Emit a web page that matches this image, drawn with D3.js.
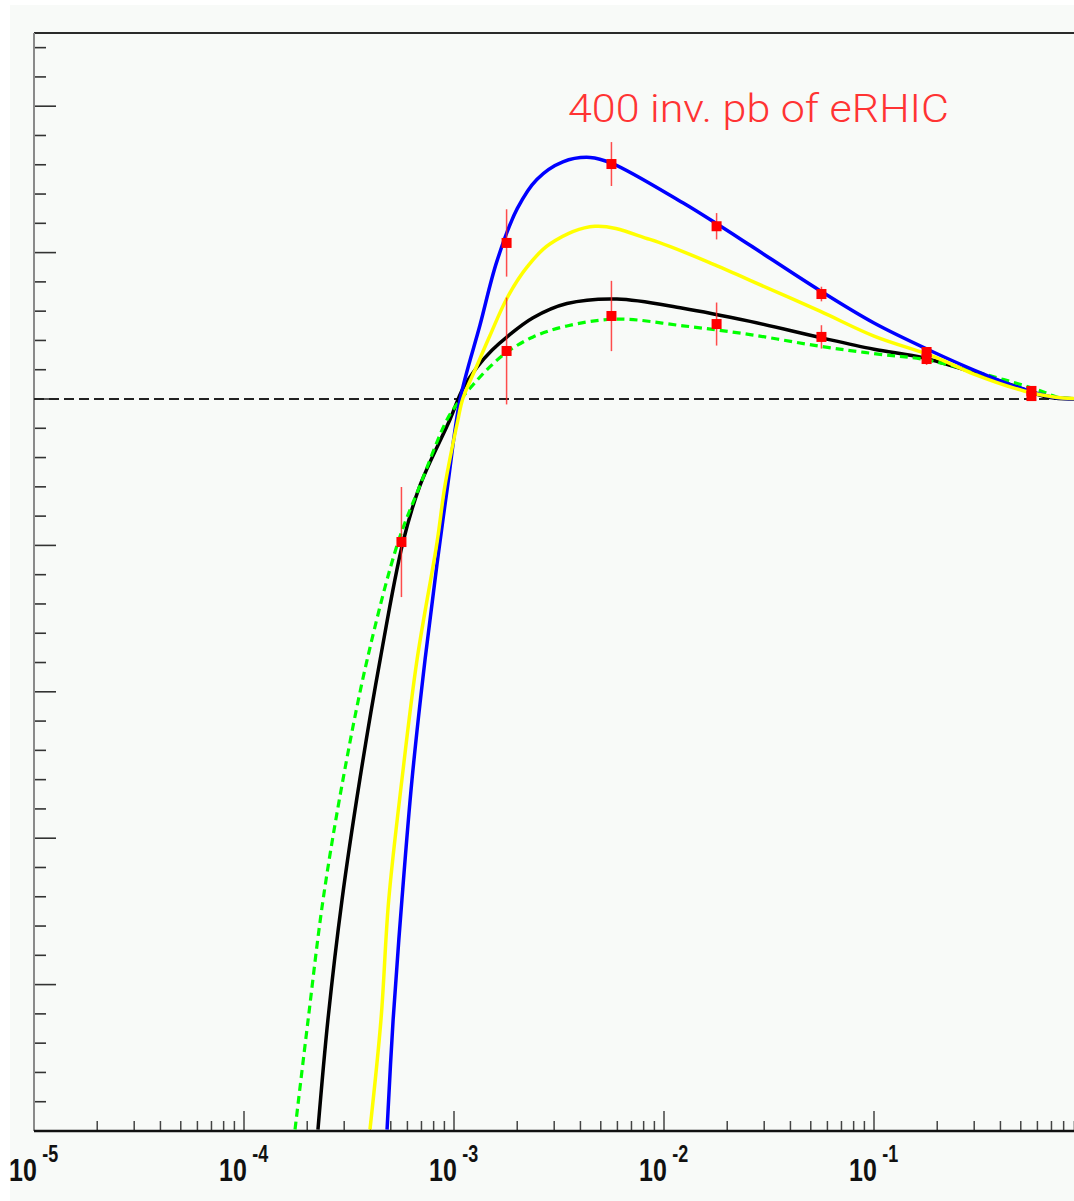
<!DOCTYPE html>
<html>
<head>
<meta charset="utf-8">
<script src="https://cdn.jsdelivr.net/npm/d3@7/dist/d3.min.js"></script>
<style>
    body { margin: 0; background: #ffffff; }
    svg { display: block; }
</style>
</head>
<body>
<div id="graphic"></div>
<script>

/* x range of the frame and decades that get a label */
var xDomain = [1e-5, 1];
var yDomain = [-0.5, 0.25];
var decadeLabels = ["-5", "-4", "-3", "-2", "-1"];

/* fit curves: [x, y] */
var curveBlack = [
    [2.25e-4, -0.499], [2.51e-4, -0.424], [2.93e-4, -0.342], [3.56e-4, -0.260],
    [4.45e-4, -0.178], [5.71e-4, -0.098], [6.89e-4, -0.059], [9.57e-4, -0.014],
    [1.10e-3, 0.0068], [1.29e-3, 0.0219], [1.52e-3, 0.0335], [1.79e-3, 0.0425],
    [2.38e-3, 0.0555], [3.45e-3, 0.0652], [5.97e-3, 0.0683], [1.23e-2, 0.062],
    [2.57e-2, 0.053], [5.53e-2, 0.042], [0.1, 0.034], [0.173, 0.028],
    [0.299, 0.018], [0.465, 0.009], [0.667, 0.0014], [1.0, 0]
];

var curveGreen = [
    [1.75e-4, -0.499], [2.02e-4, -0.424], [2.38e-4, -0.342], [2.96e-4, -0.260],
    [3.86e-4, -0.178], [5.41e-4, -0.098], [6.89e-4, -0.059], [9.27e-4, -0.014],
    [1.07e-3, -0.0007], [1.23e-3, 0.0096], [1.48e-3, 0.0219], [1.79e-3, 0.0321],
    [2.38e-3, 0.0424], [3.45e-3, 0.0499], [5.97e-3, 0.0546], [1.23e-2, 0.050],
    [2.57e-2, 0.044], [5.53e-2, 0.036], [0.1, 0.031], [0.173, 0.027],
    [0.334, 0.017], [0.624, 0.0055], [0.743, 0.0014], [1.0, 0]
];

var curveBlue = [
    [4.80e-4, -0.499], [5.13e-4, -0.424], [5.65e-4, -0.342], [6.31e-4, -0.260],
    [7.28e-4, -0.178], [8.30e-4, -0.1127], [9.35e-4, -0.0581], [1.07e-3, 0],
    [1.33e-3, 0.0505], [1.60e-3, 0.094], [2.00e-3, 0.130], [2.48e-3, 0.150],
    [3.30e-3, 0.162], [4.45e-3, 0.165], [5.65e-3, 0.161], [1.23e-2, 0.134],
    [1.79e-2, 0.1195], [2.57e-2, 0.105], [5.53e-2, 0.074], [0.1, 0.0519],
    [0.187, 0.0328], [0.299, 0.0198], [0.48, 0.0082], [0.70, 0.0014], [1.0, 0]
];

var curveYellow = [
    [3.98e-4, -0.499], [4.49e-4, -0.424], [4.89e-4, -0.342], [5.65e-4, -0.260],
    [6.67e-4, -0.178], [8.30e-4, -0.098], [9.06e-4, -0.059], [1.045e-3, -0.014],
    [1.10e-3, 0], [1.29e-3, 0.0232], [1.48e-3, 0.043], [1.79e-3, 0.069],
    [2.23e-3, 0.0902], [2.86e-3, 0.1059], [4.69e-3, 0.118], [8.57e-3, 0.109],
    [1.79e-2, 0.091], [2.57e-2, 0.081], [5.53e-2, 0.060], [0.1, 0.043],
    [0.193, 0.029], [0.299, 0.017], [0.518, 0.0055], [0.72, 0.0014], [1.0, 0]
];

/* pseudo data, 400 inv. pb */
var binsX = [5.62e-4, 1.78e-3, 5.62e-3, 1.78e-2, 5.62e-2, 0.178, 0.562];
var upperX = [1.78e-3, 5.62e-3, 1.78e-2, 5.62e-2, 0.178, 0.562];
var upperY = [0.1066, 0.1605, 0.118, 0.0717, 0.0321, 0.0055];
var upperErr = [0.023, 0.015, 0.009, 0.005, 0.003, 0.002];
var lowerY = [-0.0977, 0.0328, 0.0567, 0.0512, 0.0424, 0.0273, 0.002];
var lowerErr = [0.0376, 0.0365, 0.024, 0.0147, 0.008, 0.004, 0.002];

var W = 1074, H = 1201;
var padL = 34, padT = 33, padB = 1131;

var x = d3.scaleLog().domain(xDomain).range([padL, padL + 5 * 210]);
var y = d3.scaleLinear().domain(yDomain).range([padB, padT]);

var svg = d3.select("#graphic").append("svg")
        .attr("width", W)
        .attr("height", H);

svg.append("rect")
        .attr("x", 10).attr("y", 5)
        .attr("width", W - 10).attr("height", H - 5)
        .attr("fill", "#f8faf8");

svg.append("defs").append("clipPath").attr("id", "frame")
        .append("rect")
        .attr("x", x(xDomain[0])).attr("y", y(yDomain[1]))
        .attr("width", x(xDomain[1]) - x(xDomain[0]))
        .attr("height", y(yDomain[0]) - y(yDomain[1]));

/* y ticks: major every 0.1, minor every 0.02 */
var yMinor = d3.range(-25, 13).map(function (i) { return i * 0.02; });
svg.selectAll("line.ytick")
        .data(yMinor)
        .enter().append("line")
        .attr("class", "ytick")
        .attr("x1", padL)
        .attr("x2", function (d) {
            return padL + (Math.abs(Math.round(d * 50)) % 5 === 0 ? 22 : 12);
        })
        .attr("y1", function (d) { return y(d); })
        .attr("y2", function (d) { return y(d); })
        .attr("stroke", "#333")
        .attr("stroke-width", 1.6);

/* x ticks: decades plus 2..9 */
var xTicks = [];
for (var k = -5; k < 0; k++) {
    for (var m = 1; m <= 9; m++) {
        xTicks.push({v: m * Math.pow(10, k), major: m === 1});
    }
}
svg.selectAll("line.xtick")
        .data(xTicks)
        .enter().append("line")
        .attr("class", "xtick")
        .attr("x1", function (d) { return x(d.v); })
        .attr("x2", function (d) { return x(d.v); })
        .attr("y1", padB)
        .attr("y2", function (d) { return padB - (d.major ? 20 : 10); })
        .attr("stroke", "#444")
        .attr("stroke-width", 1.5);

/* frame */
svg.append("line")
        .attr("x1", padL).attr("x2", x(xDomain[1]))
        .attr("y1", padT).attr("y2", padT)
        .attr("stroke", "#2a2a2a").attr("stroke-width", 2);
svg.append("line")
        .attr("x1", padL).attr("x2", padL)
        .attr("y1", padT).attr("y2", padB)
        .attr("stroke", "#8a8a8a").attr("stroke-width", 2);
svg.append("line")
        .attr("x1", padL).attr("x2", x(xDomain[1]))
        .attr("y1", padB).attr("y2", padB)
        .attr("stroke", "#111").attr("stroke-width", 2.5);

/* x labels 10^k, one text each, squeezed like the original font */
var lab = svg.selectAll("text.xlab")
        .data(decadeLabels)
        .enter().append("text")
        .attr("class", "xlab")
        .attr("transform", function (d) {
            return "translate(" + x(Math.pow(10, +d)) + ",1181) scale(0.78,1)";
        })
        .attr("x", -32)
        .attr("y", 0)
        .attr("font-family", "'Liberation Sans', Arial, sans-serif")
        .attr("font-weight", "bold")
        .attr("font-size", "32px")
        .attr("fill", "#111")
        .text("10");
lab.append("tspan")
        .attr("dx", 7)
        .attr("dy", -19)
        .attr("font-size", "23px")
        .text(function (d) { return d; });

/* zero line */
svg.append("line")
        .attr("x1", padL).attr("x2", x(xDomain[1]))
        .attr("y1", y(0)).attr("y2", y(0))
        .attr("stroke", "#222")
        .attr("stroke-width", 2)
        .attr("stroke-dasharray", "10,5");

var line = d3.line()
        .x(function (d) { return x(d[0]); })
        .y(function (d) { return y(d[1]); })
        .curve(d3.curveCatmullRom.alpha(0.5));

var plot = svg.append("g").attr("clip-path", "url(#frame)");

var curves = [
    {p: curveBlack, c: "#000000", w: 3.5, dash: null},
    {p: curveGreen, c: "#00ff00", w: 3.2, dash: "8,5"},
    {p: curveBlue, c: "#0000ff", w: 3.5, dash: null},
    {p: curveYellow, c: "#ffff00", w: 3.5, dash: null}
];

plot.selectAll("path.curve")
        .data(curves)
        .enter().append("path")
        .attr("class", "curve")
        .attr("d", function (d) { return line(d.p); })
        .attr("fill", "none")
        .attr("stroke", function (d) { return d.c; })
        .attr("stroke-width", function (d) { return d.w; })
        .attr("stroke-dasharray", function (d) { return d.dash; });

/* points with error bars */
var pts = [];
for (var i = 0; i < upperX.length; i++) {
    pts.push({x: upperX[i], y: upperY[i], e: upperErr[i]});
}
for (var j = 0; j < binsX.length; j++) {
    pts.push({x: binsX[j], y: lowerY[j], e: lowerErr[j]});
}

plot.selectAll("line.err")
        .data(pts)
        .enter().append("line")
        .attr("class", "err")
        .attr("x1", function (d) { return x(d.x); })
        .attr("x2", function (d) { return x(d.x); })
        .attr("y1", function (d) { return y(d.y - d.e); })
        .attr("y2", function (d) { return y(d.y + d.e); })
        .attr("stroke", "#ff2020")
        .attr("stroke-opacity", 0.8)
        .attr("stroke-width", 1.5);

plot.selectAll("rect.pt")
        .data(pts)
        .enter().append("rect")
        .attr("class", "pt")
        .attr("x", function (d) { return x(d.x) - 5; })
        .attr("y", function (d) { return y(d.y) - 5; })
        .attr("width", 10)
        .attr("height", 10)
        .attr("fill", "#ff0000");

svg.append("text")
        .text("400 inv. pb of eRHIC")
        .attr("x", 568)
        .attr("y", 122)
        .attr("font-family", "Roboto, 'Open Sans', sans-serif")
        .attr("font-weight", 300)
        .attr("font-size", "38px")
        .attr("textLength", 381)
        .attr("lengthAdjust", "spacingAndGlyphs")
        .attr("fill", "#ff3333");

</script>
</body>
</html>
